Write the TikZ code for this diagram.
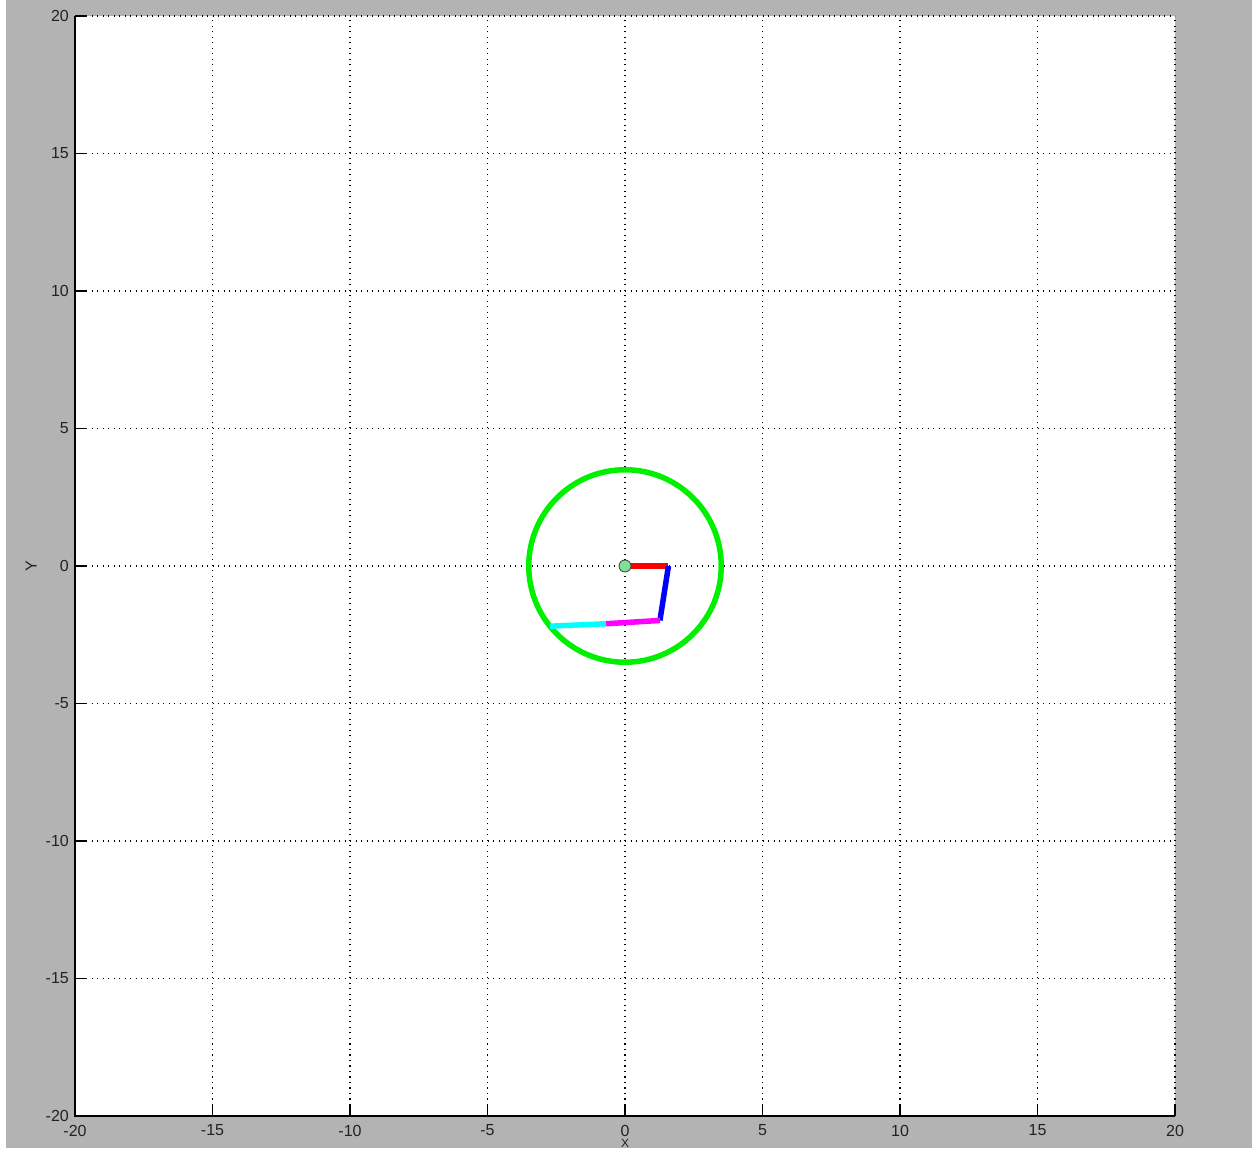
\documentclass[tikz,border=0pt]{standalone}
\usepackage{fontspec}
\setmainfont{Liberation Sans}
\definecolor{bggray}{RGB}{179,179,179}
\definecolor{labelgray}{RGB}{34,34,34}
\definecolor{jointgreen}{RGB}{125,225,150}
\definecolor{ringgreen}{RGB}{0,240,0}
\definecolor{armred}{RGB}{255,0,0}
\definecolor{armblue}{RGB}{0,0,255}
\definecolor{armmagenta}{RGB}{255,0,255}
\definecolor{armcyan}{RGB}{0,255,255}
\begin{document}
\begin{tikzpicture}[x=1pt,y=1pt,
  ticklabel/.style={font=\fontsize{16}{16}\selectfont, text=labelgray, inner sep=0pt},
  axislabel/.style={font=\fontsize{12}{12}\selectfont, text=labelgray, inner sep=0pt},
  gridline/.style={black, line width=1.1pt, dash pattern=on 1.1pt off 4.4pt},
  axisline/.style={black, line width=1.4pt},
  tickline/.style={black, line width=1.4pt},
  armseg/.style={line width=5.5pt}]
\fill[white] (0,0) rectangle (1252,1148);
\fill[bggray] (6,0) rectangle (1252,1148);
\useasboundingbox (0,0) rectangle (1252,1148);
\fill[white] (75,32) rectangle (1175,1132);
\begin{scope}[shift={(625,582)}, x=27.5pt, y=27.5pt]
  % grid
  \foreach \v in {-15,-10,...,20} {
    \draw[gridline] (\v,-20) -- (\v,20);
    \draw[gridline] (-20,\v) -- (20,\v);
  }
  % axes
  \draw[axisline] (-20,20) -- (-20,-20) -- (20,-20);
  % ticks and labels
  \foreach \v [count=\i] in {-20,-15,...,20} {
    \draw[tickline] (\v,-20) -- ++(0,0.4);
    \draw[tickline] (-20,\v) -- ++(0.4,0);
    \path (\v,-20) node[ticklabel, yshift=-14.5pt] (xl\i) {\v};
    \path (-20,\v) node[ticklabel, anchor=east, xshift=-6pt] (yl\i) {\v};
  }
  \path (0,-20) node[axislabel, anchor=base, yshift=-31pt] (xlabel) {X};
  \path (-20,0) node[ticklabel, rotate=90, yshift=44pt] (ylabel) {Y};
  % workspace circle
  \draw[ringgreen, line width=5.5pt] (0,0) circle (3.5);
  % arm
  \coordinate (j0) at (0,0);
  \coordinate (j1) at (1.56,0);
  \coordinate (j1b) at (1.58,0);
  \coordinate (j2) at (1.27,-1.98);
  \coordinate (j3) at (-0.69,-2.10);
  \coordinate (j4) at (-2.73,-2.19);
  \draw[armseg, armred] (j0) -- (j1);
  \draw[armseg, armblue] (j1b) -- (j2);
  \draw[armseg, armmagenta] (j2) -- (j3);
  \draw[armseg, armcyan] (j3) -- (j4);
  \node[circle, draw=black!70, fill=jointgreen, line width=0.9pt, minimum size=12pt, inner sep=0pt] (base) at (j0) {};
\end{scope}
\end{tikzpicture}
\end{document}
